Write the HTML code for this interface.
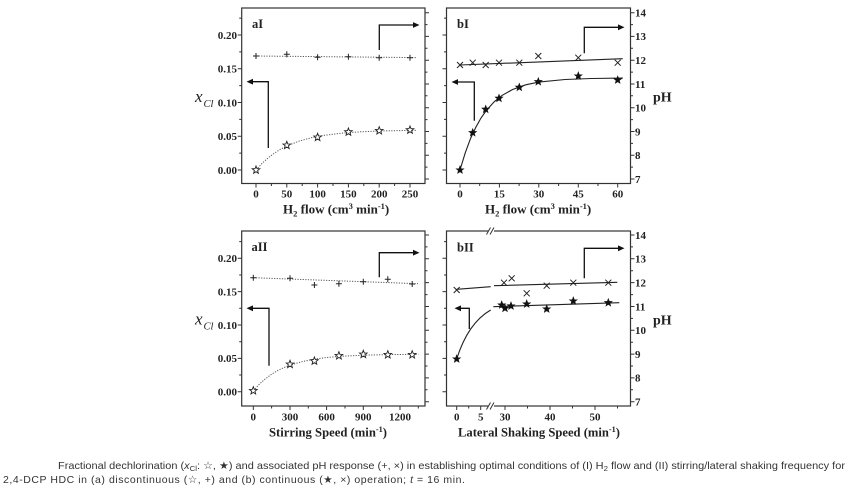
<!DOCTYPE html>
<html><head><meta charset="utf-8"><style>
html,body{margin:0;padding:0;background:#fff;}
svg{display:block;}
.f{fill:none;stroke:#333;stroke-width:1.2;}
.t{stroke:#333;stroke-width:1;}
.lab{font-family:"Liberation Serif",serif;font-weight:bold;font-size:11px;fill:#222;}
.ttl{font-family:"Liberation Serif",serif;font-weight:bold;font-size:13px;fill:#222;}
.dot{fill:none;stroke:#555;stroke-width:1;stroke-dasharray:1.2 1.4;}
.sol{fill:none;stroke:#222;stroke-width:1.1;}
.arr{fill:none;stroke:#111;stroke-width:1.3;}
.mk{fill:none;stroke:#222;stroke-width:1;}
.cap{font-family:"Liberation Sans Narrow","Liberation Sans","DejaVu Sans",sans-serif;font-size:10.5px;fill:#333;}
.cap2{font-family:"Liberation Sans Narrow","Liberation Sans","DejaVu Sans",sans-serif;font-size:10.5px;fill:#333;letter-spacing:0.55px;}
</style></head><body>
<svg width="850" height="488" viewBox="0 0 850 488" xmlns="http://www.w3.org/2000/svg">
<defs>
<polygon id="st" points="0,-4 1,-1.38 3.8,-1.24 1.62,0.53 2.35,3.24 0,1.7 -2.35,3.24 -1.62,0.53 -3.8,-1.24 -1,-1.38"/>
<path id="pl" d="M-3,0H3M0,-3V3"/>
<path id="cr" d="M-3,-3L3,3M-3,3L3,-3"/>
</defs>
<rect width="850" height="488" fill="#fff"/>

<!-- ================= PANEL aI ================= -->
<rect class="f" x="241.7" y="8" width="183.3" height="175.5"/>
<g class="t">
<path d="M241.7,170h-4M241.7,153.1h-2.5M241.7,136.25h-4M241.7,119.4h-2.5M241.7,102.5h-4M241.7,85.6h-2.5M241.7,68.75h-4M241.7,51.9h-2.5M241.7,35h-4M241.7,18.1h-2.5"/>
<path d="M425,179h4M425,167.1h2.5M425,155.2h4M425,143.4h2.5M425,131.5h4M425,119.6h2.5M425,107.7h4M425,95.8h2.5M425,84h4M425,72.1h2.5M425,60.2h4M425,48.3h2.5M425,36.4h4M425,24.6h2.5M425,12.7h4"/>
<path d="M256,183.5v4M271.4,183.5v2.5M286.8,183.5v4M302.2,183.5v2.5M317.6,183.5v4M333,183.5v2.5M348.4,183.5v4M363.8,183.5v2.5M379.2,183.5v4M394.6,183.5v2.5M410,183.5v4"/>
</g>
<g class="lab" text-anchor="end">
<text x="237" y="38.8">0.20</text><text x="237" y="72.5">0.15</text><text x="237" y="106.3">0.10</text><text x="237" y="140">0.05</text><text x="237" y="173.8">0.00</text>
</g>
<g class="lab" text-anchor="middle">
<text x="256" y="197.5">0</text><text x="286.8" y="197.5">50</text><text x="317.6" y="197.5">100</text><text x="348.4" y="197.5">150</text><text x="379.2" y="197.5">200</text><text x="410" y="197.5">250</text>
</g>
<text x="252" y="28" font-family="Liberation Serif,serif" font-weight="bold" font-size="12.5" fill="#222">aI</text>
<text class="ttl" x="283" y="213.5">H<tspan font-size="8.5" dy="3">2</tspan><tspan dy="-3"> flow (cm</tspan><tspan font-size="8.5" dy="-4.5">3</tspan><tspan dy="4.5"> min</tspan><tspan font-size="8.5" dy="-4.5">-1</tspan><tspan dy="4.5">)</tspan></text>
<text x="195" y="102" font-family="Liberation Serif,serif" font-style="italic" font-size="17" fill="#222">x</text>
<text x="203.5" y="107" font-family="Liberation Serif,serif" font-style="italic" font-size="10.5" fill="#222">Cl</text>
<path class="dot" d="M256,56 L417,57.6"/>
<path class="dot" d="M256,170 L262.2,163.3 L268.3,157.7 L274.5,153.1 L280.6,149.2 L286.8,146 L299.1,141.1 L311.4,137.7 L323.8,135.4 L342.2,133.1 L360.7,131.8 L379.2,131 L416,130.3"/>
<g class="mk">
<use href="#pl" x="256" y="56"/><use href="#pl" x="286.8" y="54.3"/><use href="#pl" x="317.6" y="57.3"/><use href="#pl" x="348.4" y="56.7"/><use href="#pl" x="379.2" y="57.7"/><use href="#pl" x="410" y="57.7"/>
</g>
<g fill="#fff" stroke="#222" stroke-width="0.9">
<use href="#st" x="256" y="170"/><use href="#st" x="286.8" y="145.3"/><use href="#st" x="317.6" y="137.3"/><use href="#st" x="348.4" y="132"/><use href="#st" x="379.2" y="130.7"/><use href="#st" x="410" y="130"/>
</g>
<path class="arr" d="M268.3,148V81.7H252"/><polygon points="246.5,81.7 253,78.8 253,84.6" fill="#111"/>
<path class="arr" d="M379.3,50V25H413"/><polygon points="419.5,25 413,22.1 413,27.9" fill="#111"/>

<!-- ================= PANEL bI ================= -->
<rect class="f" x="446.5" y="8" width="184" height="175.5"/>
<g class="t">
<path d="M446.5,170h-4M446.5,153.1h-2.5M446.5,136.25h-4M446.5,119.4h-2.5M446.5,102.5h-4M446.5,85.6h-2.5M446.5,68.75h-4M446.5,51.9h-2.5M446.5,35h-4M446.5,18.1h-2.5"/>
<path d="M630.5,179h4M630.5,167.1h2.5M630.5,155.2h4M630.5,143.4h2.5M630.5,131.5h4M630.5,119.6h2.5M630.5,107.7h4M630.5,95.8h2.5M630.5,84h4M630.5,72.1h2.5M630.5,60.2h4M630.5,48.3h2.5M630.5,36.4h4M630.5,24.6h2.5M630.5,12.7h4"/>
<path d="M460,183.5v4M479.7,183.5v2.5M499.4,183.5v4M519.1,183.5v2.5M538.8,183.5v4M558.6,183.5v2.5M578.3,183.5v4M598,183.5v2.5M617.7,183.5v4"/>
</g>
<g class="lab">
<text x="635" y="16.5">14</text><text x="635" y="40.2">13</text><text x="635" y="64">12</text><text x="635" y="87.8">11</text><text x="635" y="111.5">10</text><text x="635" y="135.3">9</text><text x="635" y="159">8</text><text x="635" y="182.8">7</text>
</g>
<g class="lab" text-anchor="middle">
<text x="460" y="197.5">0</text><text x="499.4" y="197.5">15</text><text x="538.8" y="197.5">30</text><text x="578.3" y="197.5">45</text><text x="617.7" y="197.5">60</text>
</g>
<text x="457" y="28" font-family="Liberation Serif,serif" font-weight="bold" font-size="12.5" fill="#222">bI</text>
<text class="ttl" x="485" y="213.5">H<tspan font-size="8.5" dy="3">2</tspan><tspan dy="-3"> flow (cm</tspan><tspan font-size="8.5" dy="-4.5">3</tspan><tspan dy="4.5"> min</tspan><tspan font-size="8.5" dy="-4.5">-1</tspan><tspan dy="4.5">)</tspan></text>
<text x="653" y="101.5" font-family="Liberation Serif,serif" font-weight="bold" font-size="14" fill="#222">pH</text>
<path class="sol" d="M460,65 L622.7,58.7"/>
<path class="sol" d="M460,170 L465.3,152.7 L470.5,138.6 L475.8,127.3 L481,118 L486.3,110.5 L494.2,101.8 L502,95.4 L512.6,89.5 L525.7,84.8 L538.8,82.1 L565.1,79.5 L591.4,78.5 L622.9,78.1"/>
<g class="mk">
<use href="#cr" x="460" y="65"/><use href="#cr" x="472.7" y="62.7"/><use href="#cr" x="485.7" y="65"/><use href="#cr" x="499" y="62.7"/><use href="#cr" x="519.3" y="62.7"/><use href="#cr" x="538.3" y="56"/><use href="#cr" x="578.3" y="57.7"/><use href="#cr" x="617.7" y="62.7"/>
</g>
<g fill="#111" stroke="#111" stroke-width="0.6">
<use href="#st" x="460" y="170"/><use href="#st" x="472.7" y="132.7"/><use href="#st" x="485.7" y="109.3"/><use href="#st" x="499" y="98.3"/><use href="#st" x="519.3" y="87.3"/><use href="#st" x="538.3" y="81.7"/><use href="#st" x="578.3" y="76"/><use href="#st" x="617.7" y="80"/>
</g>
<path class="arr" d="M474.3,120.7V82H457.5"/><polygon points="451.5,82 458,79.1 458,84.9" fill="#111"/>
<path class="arr" d="M584.3,53.3V27.3H618"/><polygon points="624.5,27.3 618,24.4 618,30.2" fill="#111"/>

<!-- ================= PANEL aII ================= -->
<rect class="f" x="241.7" y="231" width="183.3" height="175"/>
<g class="t">
<path d="M241.7,391.7h-4M241.7,375h-2.5M241.7,358.35h-4M241.7,341.7h-2.5M241.7,325h-4M241.7,308.3h-2.5M241.7,291.65h-4M241.7,275h-2.5M241.7,258.3h-4M241.7,241.6h-2.5"/>
<path d="M425,401.7h4M425,389.8h2.5M425,377.9h4M425,366h2.5M425,354.1h4M425,342.2h2.5M425,330.3h4M425,318.4h2.5M425,306.5h4M425,294.6h2.5M425,282.6h4M425,270.7h2.5M425,258.8h4M425,246.9h2.5M425,235h4"/>
<path d="M253.3,406v4M271.6,406v2.5M290,406v4M308.3,406v2.5M326.6,406v4M345,406v2.5M363.3,406v4M381.6,406v2.5M400,406v4M418.3,406v2.5"/>
</g>
<g class="lab" text-anchor="end">
<text x="237" y="262.1">0.20</text><text x="237" y="295.4">0.15</text><text x="237" y="328.8">0.10</text><text x="237" y="362.1">0.05</text><text x="237" y="395.5">0.00</text>
</g>
<g class="lab" text-anchor="middle">
<text x="253.3" y="420.5">0</text><text x="290" y="420.5">300</text><text x="326.6" y="420.5">600</text><text x="363.3" y="420.5">900</text><text x="400" y="420.5">1200</text>
</g>
<text x="251.5" y="251" font-family="Liberation Serif,serif" font-weight="bold" font-size="12.5" fill="#222">aII</text>
<text class="ttl" x="269" y="436.5" textLength="118" lengthAdjust="spacingAndGlyphs">Stirring Speed (min<tspan font-size="8.5" dy="-4.5">-1</tspan><tspan dy="4.5">)</tspan></text>
<text x="195" y="324.5" font-family="Liberation Serif,serif" font-style="italic" font-size="17" fill="#222">x</text>
<text x="203.5" y="329.5" font-family="Liberation Serif,serif" font-style="italic" font-size="10.5" fill="#222">Cl</text>
<path class="dot" d="M253.3,277.7 L418,283.7"/>
<path class="dot" d="M253.3,390.7 L259.4,384.1 L265.5,378.7 L271.6,374.2 L277.7,370.6 L283.9,367.6 L290,365.2 L302.2,361.6 L314.4,359.1 L326.6,357.5 L338.9,356.4 L363.3,355.2 L387.7,354.6 L418.3,354.3"/>
<g class="mk">
<use href="#pl" x="253.3" y="277.7"/><use href="#pl" x="290" y="278.3"/><use href="#pl" x="314.4" y="285"/><use href="#pl" x="338.9" y="283.7"/><use href="#pl" x="363.3" y="281.7"/><use href="#pl" x="387.8" y="279.3"/><use href="#pl" x="412.2" y="284"/>
</g>
<g fill="#fff" stroke="#222" stroke-width="0.9">
<use href="#st" x="253.3" y="390.7"/><use href="#st" x="290" y="364.3"/><use href="#st" x="314.4" y="361"/><use href="#st" x="338.9" y="355.7"/><use href="#st" x="363.3" y="354.3"/><use href="#st" x="387.8" y="354.7"/><use href="#st" x="412.2" y="354.7"/>
</g>
<path class="arr" d="M269,365.7V308.3H252"/><polygon points="246.5,308.3 253,305.4 253,311.2" fill="#111"/>
<path class="arr" d="M379.3,277.3V252.7H413"/><polygon points="419.5,252.7 413,249.8 413,255.6" fill="#111"/>

<!-- ================= PANEL bII ================= -->
<rect class="f" x="446.5" y="231" width="184" height="175"/>
<g class="t">
<path d="M446.5,391.7h-4M446.5,375h-2.5M446.5,358.35h-4M446.5,341.7h-2.5M446.5,325h-4M446.5,308.3h-2.5M446.5,291.65h-4M446.5,275h-2.5M446.5,258.3h-4M446.5,241.6h-2.5"/>
<path d="M630.5,401.7h4M630.5,389.8h2.5M630.5,377.9h4M630.5,366h2.5M630.5,354.1h4M630.5,342.2h2.5M630.5,330.3h4M630.5,318.4h2.5M630.5,306.5h4M630.5,294.6h2.5M630.5,282.6h4M630.5,270.7h2.5M630.5,258.8h4M630.5,246.9h2.5M630.5,235h4"/>
<path d="M456.7,406v4M468.7,406v2.5M480.7,406v4M505,406v4M527.5,406v2.5M550,406v4M572.5,406v2.5M595,406v4M617.5,406v2.5"/>
</g>
<rect x="488.5" y="228" width="5.5" height="6" fill="#fff"/>
<rect x="488.5" y="403" width="5.5" height="6" fill="#fff"/>
<path stroke="#333" stroke-width="1" d="M486.5,234.5L490.5,227.5M490,234.5L494,227.5M486.5,409.5L490.5,402.5M490,409.5L494,402.5"/>
<g class="lab">
<text x="635" y="238.8">14</text><text x="635" y="262.6">13</text><text x="635" y="286.4">12</text><text x="635" y="310.3">11</text><text x="635" y="334.1">10</text><text x="635" y="357.9">9</text><text x="635" y="381.7">8</text><text x="635" y="405.5">7</text>
</g>
<g class="lab" text-anchor="middle">
<text x="456.7" y="420.5">0</text><text x="480.7" y="420.5">5</text><text x="505" y="420.5">30</text><text x="550" y="420.5">40</text><text x="595" y="420.5">50</text>
</g>
<text x="457" y="251.5" font-family="Liberation Serif,serif" font-weight="bold" font-size="12.5" fill="#222">bII</text>
<text class="ttl" x="458" y="436.5" textLength="162" lengthAdjust="spacingAndGlyphs">Lateral Shaking Speed (min<tspan font-size="8.5" dy="-4.5">-1</tspan><tspan dy="4.5">)</tspan></text>
<text x="653" y="324.5" font-family="Liberation Serif,serif" font-weight="bold" font-size="14" fill="#222">pH</text>
<path class="sol" d="M456.7,289.3 L490.7,286.7 M494,285.7 L617.3,282.3"/>
<path class="sol" d="M456.7,359 Q468,323 490.7,310 M493.3,306.7 L619.3,302.7"/>
<g class="mk">
<use href="#cr" x="456.7" y="290"/><use href="#cr" x="504" y="282.7"/><use href="#cr" x="511.7" y="278.3"/><use href="#cr" x="526.7" y="293.3"/><use href="#cr" x="546.7" y="285.7"/><use href="#cr" x="573.3" y="282.7"/><use href="#cr" x="608.3" y="282.7"/>
</g>
<g fill="#111" stroke="#111" stroke-width="0.6">
<use href="#st" x="456.7" y="359"/><use href="#st" x="501.7" y="305"/><use href="#st" x="505" y="308.3"/><use href="#st" x="511" y="306"/><use href="#st" x="526.7" y="304"/><use href="#st" x="546.7" y="309"/><use href="#st" x="573.3" y="301"/><use href="#st" x="608.3" y="302.7"/>
</g>
<path class="arr" d="M469.3,329V308.3H460.5"/><polygon points="454.5,308.3 461,305.4 461,311.2" fill="#111"/>
<path class="arr" d="M584.3,278.3V248.3H618"/><polygon points="624.5,248.3 618,245.4 618,251.2" fill="#111"/>

<!-- ================= CAPTION ================= -->
<text class="cap" x="58" y="469" textLength="787" lengthAdjust="spacingAndGlyphs">Fractional dechlorination (<tspan font-style="italic">x</tspan><tspan font-size="7.5" dy="2">Cl</tspan><tspan dy="-2">: ☆, ★) and associated pH response (+, ×) in establishing optimal conditions of (I) H</tspan><tspan font-size="7.5" dy="2">2</tspan><tspan dy="-2"> flow and (II) stirring/lateral shaking frequency for</tspan></text>
<text class="cap2" x="3" y="483">2,4-DCP HDC in (a) discontinuous (☆, +) and (b) continuous (★, ×) operation; <tspan font-style="italic">t</tspan> = 16 min.</text>
</svg>
</body></html>
